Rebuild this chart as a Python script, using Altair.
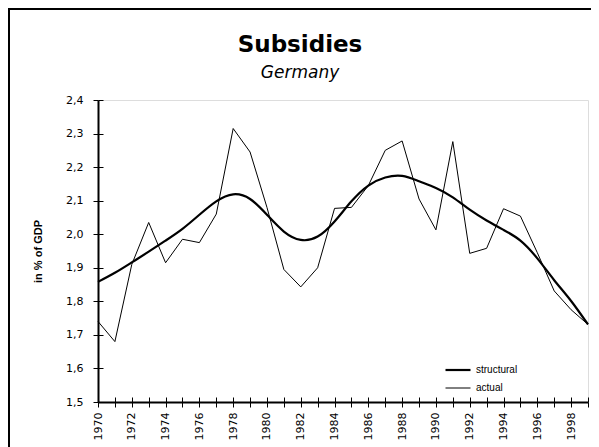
import altair as alt
import pandas as pd

years = list(range(1970, 2000))
actual = [1.74, 1.68, 1.91, 2.035, 1.915, 1.985, 1.975, 2.06, 2.315, 2.245,
          2.08, 1.895, 1.843, 1.90, 2.077, 2.08, 2.145, 2.25, 2.278, 2.105,
          2.013, 2.276, 1.943, 1.958, 2.076, 2.054, 1.945, 1.831, 1.775, 1.731]
structural = [1.858, 1.885, 1.916, 1.948, 1.981, 2.016, 2.058, 2.098, 2.119, 2.105,
              2.058, 2.008, 1.983, 1.993, 2.038, 2.098, 2.145, 2.169, 2.174, 2.158,
              2.138, 2.11, 2.073, 2.041, 2.013, 1.981, 1.928, 1.863, 1.801, 1.731]
series_names = ["structural", "actual"]
y_ticks = [1.5, 1.6, 1.7, 1.8, 1.9, 2.0, 2.1, 2.2, 2.3, 2.4]

df_act = pd.DataFrame({"year": years, "value": actual, "series": "actual"})
df_str = pd.DataFrame({"year": years, "value": structural, "series": "structural"})

FONT = "Liberation Sans"

xscale = alt.Scale(domain=[1970, 1999], nice=False, zero=False)
yscale = alt.Scale(domain=[1.5, 2.4], nice=False, zero=False)
sw = alt.StrokeWidth(
    "series:O",
    sort=series_names,
    scale=alt.Scale(domain=series_names, range=[2.2, 1]),
    legend=alt.Legend(
        orient="none", legendX=346, legendY=256, title=None,
        symbolType="stroke", symbolStrokeColor="black", symbolSize=625,
        labelFont=FONT, labelFontSize=10, labelColor="black", labelOffset=4,
        rowPadding=-12,
    ),
)

x_main = alt.X("year:Q", scale=xscale, axis=alt.Axis(
    values=years, title=None, tickSize=5, tickColor="black", tickWidth=1,
    domainColor="black", domainWidth=2, grid=False,
    labelAngle=270, labelAlign="right", labelBaseline="middle", labelPadding=5,
    labelFont="DejaVu Sans", labelFontSize=11, labelColor="black",
    labelOverlap=False, labelFlush=False, labelBound=False,
    labelExpr="datum.value % 2 == 0 ? format(datum.value, 'd') : ''"))
y_main = alt.Y("value:Q", scale=yscale, axis=alt.Axis(
    values=y_ticks, title="in % of GDP", tickSize=5, tickColor="black", tickWidth=1,
    domainColor="black", domainWidth=2, grid=False,
    labelPadding=10, labelFont="DejaVu Sans", labelFontSize=11, labelColor="black",
    labelExpr="replace(format(datum.value, '.1f'), '.', ',')",
    labelFlush=False, labelOverlap=False,
    titleFont=FONT, titleFontSize=11, titleFontWeight="bold", titleColor="black",
    titlePadding=22))

x_in = alt.X("year:Q", scale=xscale, axis=alt.Axis(
    orient="bottom", offset=-5, values=years, title=None, tickSize=5,
    tickColor="black", tickWidth=1, domain=False, labels=False, grid=False))
y_in = alt.Y("value:Q", scale=yscale, axis=alt.Axis(
    orient="left", offset=-5, values=y_ticks, title=None, tickSize=5,
    tickColor="black", tickWidth=1, domain=False, labels=False, grid=False))

actual_line = alt.Chart(df_act).mark_line(color="black").encode(
    x=x_main, y=y_main, strokeWidth=sw)
struct_line = alt.Chart(df_str).mark_line(color="black", interpolate="natural").encode(
    x=x_in, y=y_in, strokeWidth=sw)

frame = alt.Chart(df_act).mark_rect(filled=False, stroke="black", strokeWidth=2).encode(
    x=alt.value(-89), x2=alt.value(800), y=alt.value(-91), y2=alt.value(800))

chart = alt.layer(actual_line, struct_line, frame).resolve_axis(
    x="independent", y="independent"
).properties(
    width=490, height=302,
    autosize=alt.AutoSizeParams(type="none"),
    padding={"left": 90, "top": 92, "right": 3, "bottom": 45},
    title=alt.TitleParams(
        text="Subsidies", subtitle="Germany",
        font="DejaVu Sans", fontSize=23, fontWeight="bold", color="black",
        subtitleFont="DejaVu Sans", subtitleFontSize=17, subtitleFontStyle="italic",
        subtitleColor="black", subtitlePadding=8,
        anchor="middle", dx=-43, dy=89, offset=16),
).configure_view(stroke="#777777", strokeWidth=1).configure(background="white")

chart.save("out.html", embed_options={"renderer": "svg", "actions": False})
